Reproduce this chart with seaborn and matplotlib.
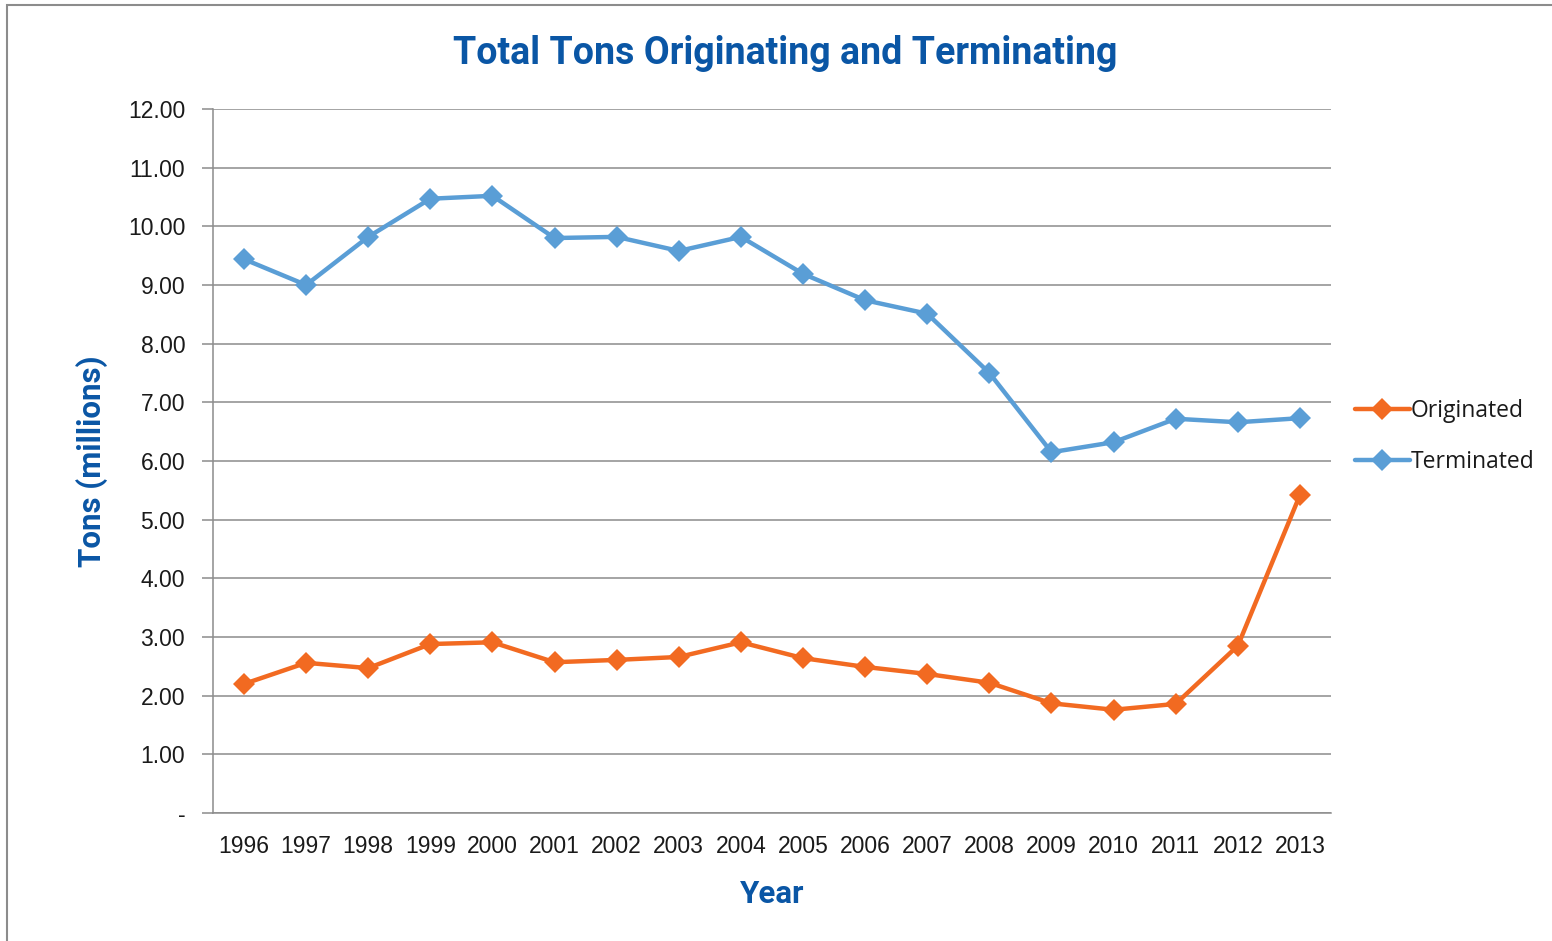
import pandas as pd
import matplotlib
matplotlib.use('Agg')
import matplotlib.pyplot as plt
import seaborn as sns
from matplotlib.patches import Rectangle


# --------------- DATA -----------------
years = ['1996', '1997', '1998', '1999', '2000', '2001', '2002', '2003', '2004',
         '2005', '2006', '2007', '2008', '2009', '2010', '2011', '2012', '2013']
originated = [2.20, 2.56, 2.47, 2.88, 2.91, 2.57, 2.61, 2.66, 2.91,
              2.64, 2.49, 2.37, 2.22, 1.87, 1.76, 1.86, 2.85, 5.42]
terminated = [9.44, 9.00, 9.82, 10.47, 10.52, 9.80, 9.82, 9.58, 9.82,
              9.19, 8.74, 8.51, 7.50, 6.15, 6.32, 6.72, 6.66, 6.73]
series_names = ['Originated', 'Terminated']
y_ticks = [0, 1, 2, 3, 4, 5, 6, 7, 8, 9, 10, 11, 12]

TITLE_BLUE = '#0a56a5'
COLORS = {'Originated': '#f26a21', 'Terminated': '#5a9ed6'}


def build_frame():
    df = pd.DataFrame({'Year': years, 'Originated': originated, 'Terminated': terminated})
    return df.melt(id_vars='Year', value_vars=series_names, var_name='Series', value_name='Tons')


def main():
    df = build_frame()

    sns.set_style('white')
    plt.rcParams['font.family'] = ['Liberation Sans', 'DejaVu Sans']

    fig = plt.figure(figsize=(15.52, 9.41), dpi=100)
    ax = fig.add_axes([0.1372, 0.1360, 0.7204, 0.7482])

    # outer frame of the chart area
    fig.patches.append(Rectangle((0.0045, -0.01), 1.1, 1.0047, transform=fig.transFigure,
                                 fill=False, edgecolor='#8c8c8c', linewidth=1.5))

    sns.lineplot(data=df, x='Year', y='Tons', hue='Series', palette=COLORS,
                 marker='D', markersize=11, markeredgewidth=0, linewidth=3.2,
                 sort=False, ax=ax)

    ax.set_xlim(-0.5, len(years) - 0.5)
    ax.set_ylim(0, 12)
    ax.set_yticks(y_ticks)
    ax.set_yticklabels(['-' if v == 0 else f'{v:.2f}' for v in y_ticks])
    ax.yaxis.grid(True, color='#8c8c8c', linewidth=1.1)
    ax.xaxis.grid(False)

    for side in ['top', 'right']:
        ax.spines[side].set_visible(False)
    for side in ['left', 'bottom']:
        ax.spines[side].set_color('#8c8c8c')
        ax.spines[side].set_linewidth(1.1)

    ax.tick_params(axis='y', which='major', length=8, color='#8c8c8c', width=1.1,
                   labelsize=16.5, pad=12, left=True)
    ax.tick_params(axis='x', length=0, labelsize=16.5, pad=16)
    for lbl in ax.get_xticklabels() + ax.get_yticklabels():
        lbl.set_color('#1a1a1a')

    cond = ['Roboto', 'DejaVu Sans']
    ax.set_xlabel('Year', fontsize=22.5, fontweight='bold', color=TITLE_BLUE,
                  family=cond, labelpad=15)
    ax.set_ylabel('Tons (millions)', fontsize=22.5, fontweight='bold', color=TITLE_BLUE,
                  family=cond, labelpad=14)
    fig.text(0.506, 0.943, 'Total Tons Originating and Terminating', ha='center', va='center',
             fontsize=27, fontweight='bold', color=TITLE_BLUE, family=cond)

    leg = ax.legend(loc='center left', bbox_to_anchor=(1.003, 0.535), frameon=False,
                    handlelength=2.4, handletextpad=0.05, labelspacing=1.15,
                    prop={'family': ['Open Sans', 'DejaVu Sans'], 'size': 16.5})
    for txt in leg.get_texts():
        txt.set_color('#1a1a1a')

    fig.savefig('out.png', dpi=100)
    print('saved out.png')


if __name__ == '__main__':
    main()
